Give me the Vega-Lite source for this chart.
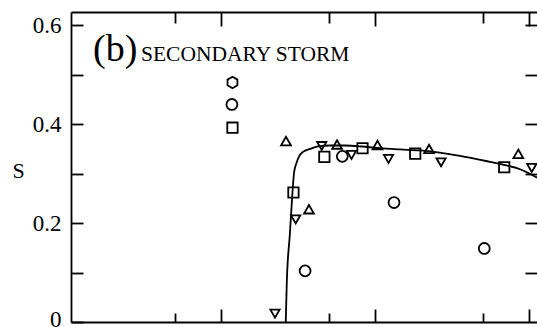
{
  "$schema": "https://vega.github.io/schema/vega-lite/v6.json",
  "width": 466,
  "height": 310,
  "autosize": {"type": "none"},
  "padding": {"left": 71, "top": 12, "right": 0, "bottom": 5},
  "background": "white",
  "config": {
    "view": {"stroke": null},
    "axis": {"grid": false, "domainColor": "black", "domainWidth": 1.8, "tickColor": "black", "tickWidth": 1.8, "labelColor": "black", "labelFont": "Liberation Serif", "titleFont": "Liberation Serif", "titleColor": "black"}
  },
  "datasets": {
    "curve": [
      {"x": 2.62, "S": 0.0},
      {"x": 2.66, "S": 0.078},
      {"x": 2.79, "S": 0.18},
      {"x": 2.89, "S": 0.257},
      {"x": 2.97, "S": 0.303},
      {"x": 3.08, "S": 0.322},
      {"x": 3.2, "S": 0.335},
      {"x": 3.39, "S": 0.344},
      {"x": 3.77, "S": 0.35},
      {"x": 4.25, "S": 0.355},
      {"x": 5.08, "S": 0.357},
      {"x": 6.36, "S": 0.357},
      {"x": 8.21, "S": 0.355},
      {"x": 10.3, "S": 0.352},
      {"x": 14.5, "S": 0.349},
      {"x": 19.5, "S": 0.347},
      {"x": 25.6, "S": 0.343},
      {"x": 35.6, "S": 0.336},
      {"x": 55.7, "S": 0.324},
      {"x": 68.7, "S": 0.318},
      {"x": 87.3, "S": 0.309},
      {"x": 112.8, "S": 0.292}
    ],
    "points": [
      {"x": 1.18, "S": 0.4845, "marker": "hexagon"},
      {"x": 1.17, "S": 0.44, "marker": "circle"},
      {"x": 1.18, "S": 0.393, "marker": "square"},
      {"x": 2.63, "S": 0.366, "marker": "triangle-up"},
      {"x": 2.94, "S": 0.262, "marker": "square"},
      {"x": 3.71, "S": 0.228, "marker": "triangle-up"},
      {"x": 3.04, "S": 0.2076, "marker": "triangle-down"},
      {"x": 3.5, "S": 0.1034, "marker": "circle"},
      {"x": 2.23, "S": 0.017, "marker": "triangle-down"},
      {"x": 4.49, "S": 0.356, "marker": "triangle-down"},
      {"x": 4.67, "S": 0.334, "marker": "square"},
      {"x": 5.65, "S": 0.359, "marker": "triangle-up"},
      {"x": 6.11, "S": 0.335, "marker": "circle"},
      {"x": 7.01, "S": 0.338, "marker": "triangle-down"},
      {"x": 8.27, "S": 0.3515, "marker": "square"},
      {"x": 10.35, "S": 0.358, "marker": "triangle-up"},
      {"x": 12.2, "S": 0.33, "marker": "triangle-down"},
      {"x": 18.2, "S": 0.3406, "marker": "square"},
      {"x": 22.4, "S": 0.35, "marker": "triangle-up"},
      {"x": 26.8, "S": 0.323, "marker": "triangle-down"},
      {"x": 13.25, "S": 0.2416, "marker": "circle"},
      {"x": 51.2, "S": 0.1488, "marker": "circle"},
      {"x": 69.0, "S": 0.313, "marker": "square"},
      {"x": 85.2, "S": 0.34, "marker": "triangle-up"},
      {"x": 104.2, "S": 0.3116, "marker": "triangle-down"}
    ],
    "labels": [
      {"part": "(b)", "x": 0.1463, "S": 0.5285},
      {"part": "SECONDARY STORM", "x": 0.3, "S": 0.5285}
    ]
  },
  "resolve": {"scale": {"x": "shared", "y": "shared"}, "axis": {"x": "independent", "y": "independent"}},
  "layer": [
    {
      "data": {"name": "curve"},
      "mark": {"type": "line", "color": "black", "strokeWidth": 1.8, "interpolate": "monotone"},
      "encoding": {
        "x": {"field": "x", "type": "quantitative",
              "scale": {"type": "log", "domain": [0.1052, 112.7], "nice": false, "zero": false},
              "axis": {"orient": "bottom", "values": [0.5, 1, 5, 10, 50, 100], "labels": false, "title": null,
                       "tickSize": {"condition": {"test": "datum.value == 1 || datum.value == 10 || datum.value == 100", "value": -13}, "value": -9}}},
        "y": {"field": "S", "type": "quantitative",
              "scale": {"domain": [0, 0.627], "nice": false, "zero": false},
              "axis": {"orient": "left", "values": [0, 0.1, 0.2, 0.3, 0.4, 0.5, 0.6], "tickSize": -12, "labelPadding": 22,
                       "labelExpr": "round(datum.value*10) % 2 == 0 ? (datum.value == 0 ? '0' : format(datum.value, '.1f')) : ''",
                       "labelFontSize": 23, "labelBaseline": "middle",
                       "labelOffset": {"condition": {"test": "datum.value == 0", "value": -3}, "value": 0},
                       "title": "S", "titleAngle": 0, "titleFontSize": 22, "titleFontWeight": "normal",
                       "titleX": -53, "titleY": 158, "titleAlign": "center", "titleBaseline": "middle"}}
      }
    },
    {
      "data": {"name": "points"},
      "mark": {"type": "point", "filled": false, "stroke": "black", "strokeWidth": 1.8, "opacity": 1},
      "encoding": {
        "x": {"field": "x", "type": "quantitative",
              "scale": {"type": "log", "domain": [0.1052, 112.7], "nice": false, "zero": false},
              "axis": {"orient": "top", "values": [0.5, 1, 5, 10, 50, 100], "labels": false, "title": null, "domain": true,
                       "tickSize": {"condition": {"test": "datum.value == 1 || datum.value == 10 || datum.value == 100", "value": -14}, "value": -11}}},
        "y": {"field": "S", "type": "quantitative",
              "scale": {"domain": [0, 0.627], "nice": false, "zero": false},
              "axis": {"orient": "right", "values": [0.1, 0.2, 0.3, 0.4, 0.5, 0.6], "labels": false, "title": null, "domain": false, "tickSize": -12}},
        "shape": {"field": "marker", "type": "nominal", "legend": null,
                  "scale": {"domain": ["hexagon", "circle", "square", "triangle-up", "triangle-down"],
                            "range": ["M0,-1L0.866,-0.5L0.866,0.5L0,1L-0.866,0.5L-0.866,-0.5Z", "circle", "square", "triangle-up", "triangle-down"]}},
        "size": {"field": "marker", "type": "nominal", "legend": null,
                 "scale": {"domain": ["hexagon", "circle", "square", "triangle-up", "triangle-down"], "range": [130, 85, 115, 85, 85]}}
      }
    },
    {
      "data": {"name": "labels"},
      "transform": [{"filter": "datum.part == '(b)'"}],
      "mark": {"type": "text", "font": "Liberation Serif", "fontSize": 38, "align": "left", "baseline": "alphabetic", "color": "black"},
      "encoding": {
        "x": {"field": "x", "type": "quantitative", "scale": {"type": "log", "domain": [0.1052, 112.7], "nice": false, "zero": false}, "axis": null},
        "y": {"field": "S", "type": "quantitative", "scale": {"domain": [0, 0.627], "nice": false, "zero": false}, "axis": null},
        "text": {"field": "part"}
      }
    },
    {
      "data": {"name": "labels"},
      "transform": [{"filter": "datum.part != '(b)'"}],
      "mark": {"type": "text", "font": "Liberation Serif", "fontSize": 21.5, "align": "left", "baseline": "alphabetic", "color": "black"},
      "encoding": {
        "x": {"field": "x", "type": "quantitative", "scale": {"type": "log", "domain": [0.1052, 112.7], "nice": false, "zero": false}, "axis": null},
        "y": {"field": "S", "type": "quantitative", "scale": {"domain": [0, 0.627], "nice": false, "zero": false}, "axis": null},
        "text": {"field": "part"}
      }
    }
  ]
}
